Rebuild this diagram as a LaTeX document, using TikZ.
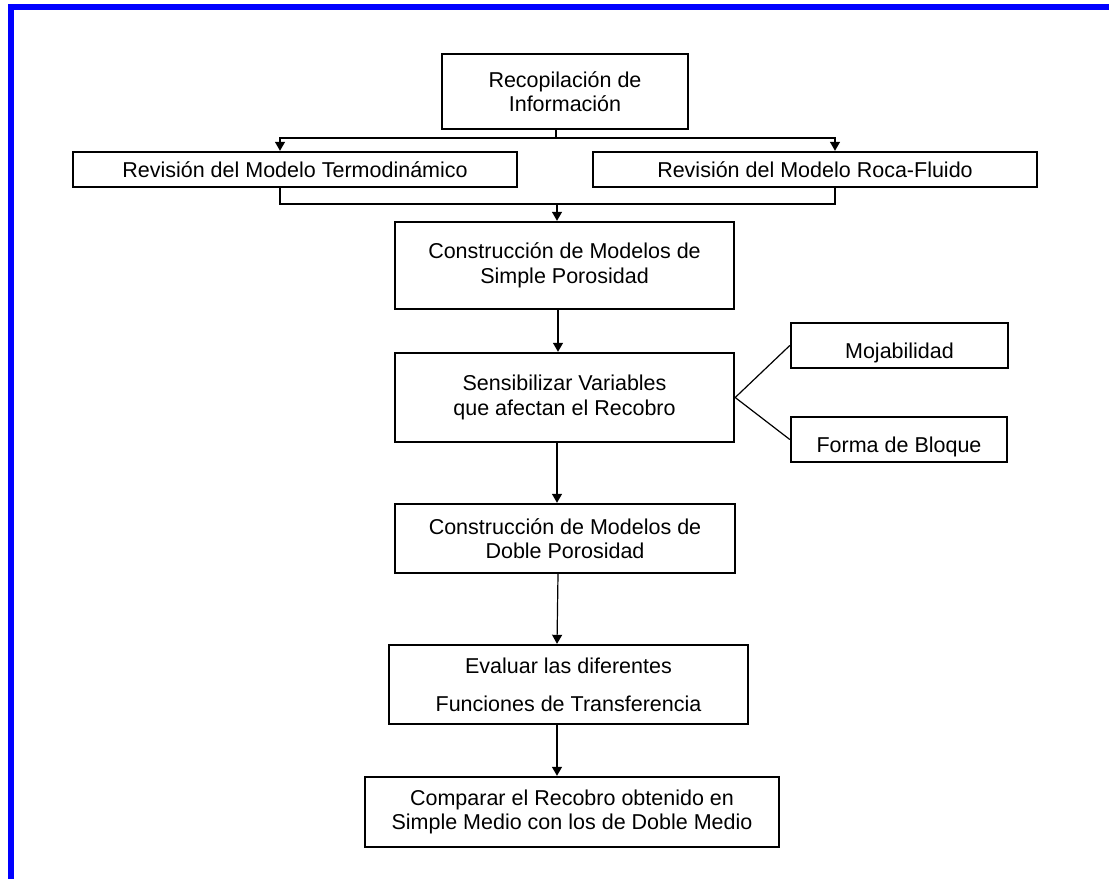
\documentclass[tikz,border=0pt]{standalone}
\usepackage{fontspec}
\setmainfont{Liberation Sans}
\usetikzlibrary{arrows.meta}
\begin{document}
\begin{tikzpicture}[x=1pt,y=-1pt,
  box/.style={draw,line width=2.4pt,align=center,inner sep=0pt,
    font=\fontsize{21.5}{24.5}\selectfont},
  lowtext/.style={text height=29pt,text depth=3pt},
  link/.style={line width=1.2pt},
  arr/.style={link,-{Triangle[width=10pt,length=9pt]}}]
\useasboundingbox (0,0) rectangle (1109,879);
% blue frame
\fill[blue] (8,4) rectangle (1109,10);
\fill[blue] (8,4) rectangle (14,879);

% process boxes
\node[box,minimum width=246pt,minimum height=75pt] (info) at (565,91.5)
  {Recopilación de\\Información};
\node[box,minimum width=444pt,minimum height=35pt] (termo) at (295,169.5)
  {Revisión del Modelo Termodinámico};
\node[box,minimum width=444pt,minimum height=35pt] (roca) at (815,169.5)
  {Revisión del Modelo Roca-Fluido};
\node[box,minimum width=339pt,minimum height=87pt] (simple) at (564.5,265.5)
  {Construcción de Modelos de\\Simple Porosidad};
\node[box,minimum width=339pt,minimum height=89pt] (sens) at (564.5,397.5)
  {Sensibilizar Variables\\que afectan el Recobro};
\node[box,lowtext,minimum width=217pt,minimum height=45pt] (moja) at (899.5,345.5)
  {Mojabilidad};
\node[box,lowtext,minimum width=216pt,minimum height=45pt] (forma) at (899,439.5)
  {Forma de Bloque};
\node[box,minimum width=340pt,minimum height=69pt] (doble) at (565,538.5)
  {Construcción de Modelos de\\Doble Porosidad};
\node[box,minimum width=359pt,minimum height=79pt,
  font=\fontsize{21.5}{38}\selectfont] (eval) at (568.5,684.5)
  {Evaluar las diferentes\\Funciones de Transferencia};
\node[box,minimum width=414pt,minimum height=70pt] (comp) at (572,812)
  {Comparar el Recobro obtenido en\\Simple Medio con los de Doble Medio};

% split below the first box
\coordinate (split) at (556,138);
\coordinate (splitL) at (280,138);
\coordinate (splitR) at (835,138);
\draw[link] (info.south -| split) -- (split);
\draw[arr] (split) -- (splitL) -- (splitL |- termo.north);
\draw[arr] (split) -- (splitR) -- (splitR |- roca.north);

% merge of the two reviews
\coordinate (joinL) at (280,204);
\coordinate (joinR) at (835,204);
\coordinate (join) at (557,204);
\draw[link] (joinL |- termo.south) -- (joinL) -- (joinR) -- (joinR |- roca.south);
\draw[arr] (join) -- (join |- simple.north);

% main column
\coordinate (axis) at (557,0);
\coordinate (axisB) at (558,0);
\draw[arr] (simple.south -| axisB) -- (sens.north -| axisB);
\draw[arr] (sens.south -| axis) -- (doble.north -| axis);
\draw[arr] (doble.south -| axisB) -- (eval.north -| axis);
\draw[arr] (eval.south -| axis) -- (comp.north -| axis);

% sensitivity branches
\draw[link] (sens.east) -- (moja.west);
\draw[link] (sens.east) -- (forma.west);
\end{tikzpicture}
\end{document}
